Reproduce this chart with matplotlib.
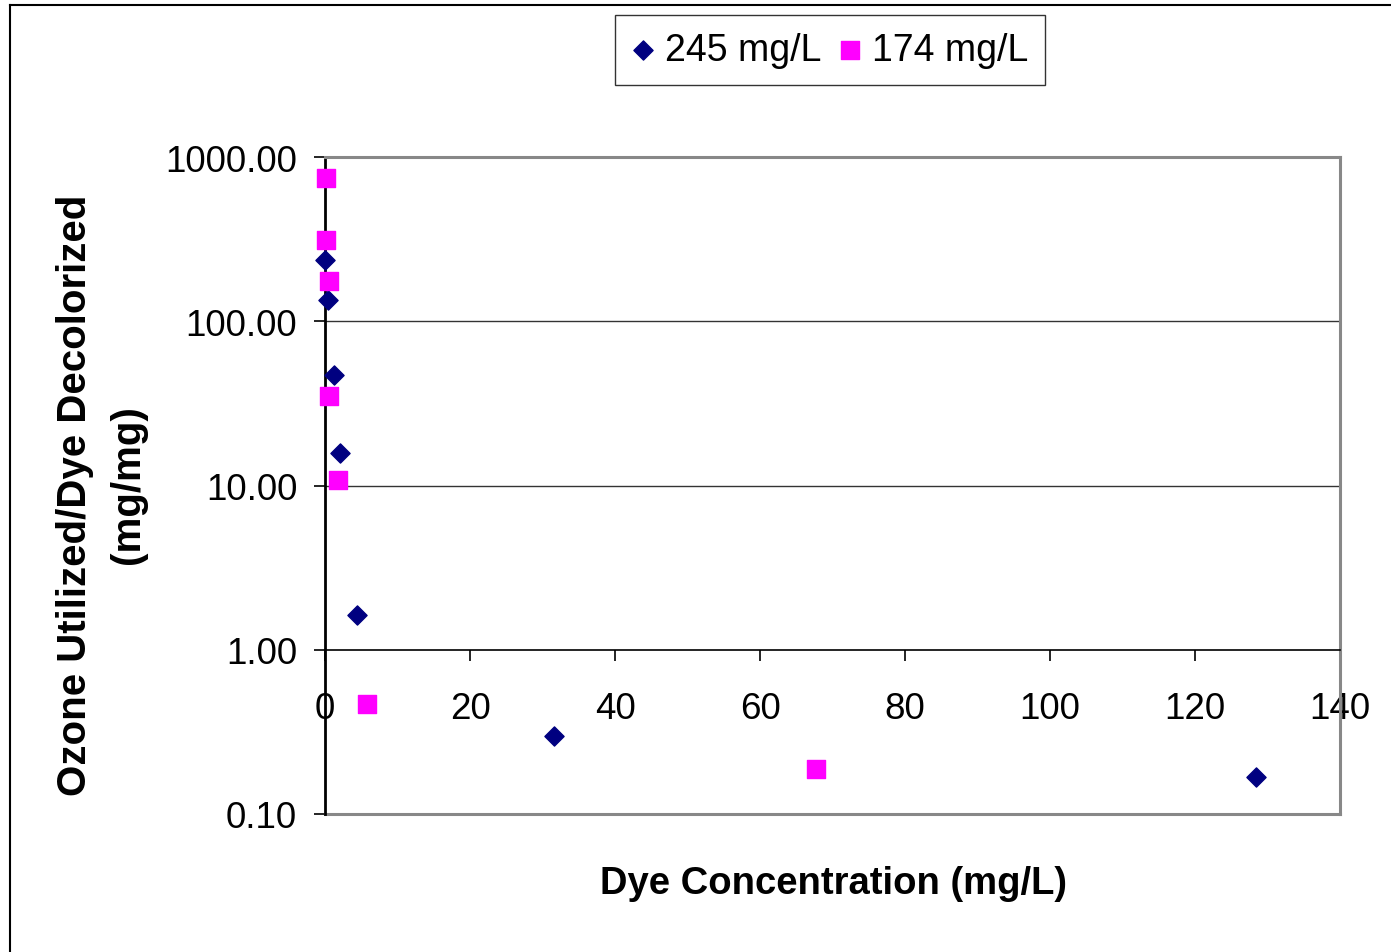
import matplotlib
matplotlib.use('Agg')
import matplotlib.pyplot as plt
from matplotlib.lines import Line2D

# data
dye_245 = [0.05, 0.4, 1.2, 2.1, 4.4, 31.6, 128.4]
ratio_245 = [236, 135, 47, 15.8, 1.63, 0.30, 0.168]
dye_174 = [0.1, 0.1, 0.55, 0.55, 1.8, 5.8, 67.7]
ratio_174 = [745, 312, 176, 35, 10.8, 0.47, 0.188]

y_ticks = [0.1, 1, 10, 100, 1000]
y_labels = ['0.10', '1.00', '10.00', '100.00', '1000.00']
x_ticks = [0, 20, 40, 60, 80, 100, 120, 140]

plt.rcParams['font.family'] = ['Liberation Sans', 'DejaVu Sans']

fig = plt.figure(figsize=(13.91, 9.53), dpi=100)
ax = fig.add_axes([325/1391, 1-815/953, (1340-325)/1391, (815-158)/953])

ax.scatter(dye_245, ratio_245, marker='D', s=95, color='#000080', label='245 mg/L', zorder=3, clip_on=False)
ax.scatter(dye_174, ratio_174, marker='s', s=150, color='#ff00ff', label='174 mg/L', zorder=3, clip_on=False)

ax.set_yscale('log')
ax.set_ylim(0.1, 1000)
ax.set_xlim(0, 140)
ax.set_yticks(y_ticks)
ax.set_yticklabels(y_labels)
ax.minorticks_off()
ax.set_xticks(x_ticks)
ax.set_xticklabels([str(v) for v in x_ticks])

# gridlines at 10 and 100 like Excel
for v in [10, 100]:
    ax.axhline(v, color='#333333', lw=1.0, zorder=1)

# plot area border gray, left axis black, x axis crossing at 1
for side in ['top', 'right']:
    ax.spines[side].set_color('#888888')
    ax.spines[side].set_linewidth(2.2)
ax.spines['left'].set_color('black')
ax.spines['left'].set_linewidth(2.0)
ax.spines['bottom'].set_position(('data', 1))
ax.spines['bottom'].set_color('black')
ax.spines['bottom'].set_linewidth(1.2)
ax.axhline(0.1, color='#888888', lw=2.2, zorder=2, clip_on=False)

ax.tick_params(axis='y', direction='out', length=8, width=1.2, labelsize=26.5, pad=12)
ax.tick_params(axis='x', direction='out', length=8, width=1.2, labelsize=26.5, pad=22)

fig.text(834/1391, 1-884/953, 'Dye Concentration (mg/L)', ha='center', va='center',
         fontsize=27.5, fontweight='bold')
fig.text(75/1391, 1-495/953, 'Ozone Utilized/Dye Decolorized', ha='center', va='center',
         rotation=90, fontsize=29, fontweight='bold')
fig.text(128/1391, 1-485/953, '(mg/mg)', ha='center', va='center',
         rotation=90, fontsize=29, fontweight='bold')

leg = fig.legend(loc='center', bbox_to_anchor=(830/1391, 1-51/953), ncol=2, fontsize=27,
                 frameon=True, fancybox=False, edgecolor='black', handletextpad=0.3,
                 columnspacing=0.45, handlelength=0.6, borderpad=0.45, scatterpoints=1)
leg.get_frame().set_linewidth(1.0)

# outer chart border
fig.add_artist(Line2D([10/1391, 1], [1-6/953, 1-6/953], color='black', lw=1.5, transform=fig.transFigure))
fig.add_artist(Line2D([10/1391, 10/1391], [0, 1-6/953], color='black', lw=1.5, transform=fig.transFigure))

plt.savefig('out.png', dpi=100)
